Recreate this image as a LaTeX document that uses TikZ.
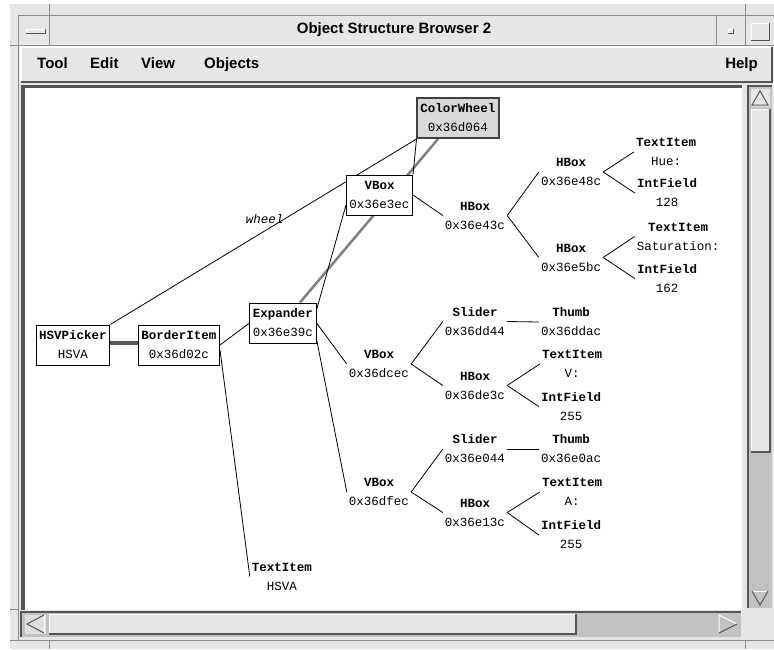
\documentclass[tikz,border=0pt]{standalone}
\usepackage{fontspec}
\usetikzlibrary{backgrounds}
\newfontfamily\monofont{Liberation Mono}
\newfontfamily\uifont{Liberation Sans}
\definecolor{chrome}{HTML}{E6E6E6}
\definecolor{trough}{HTML}{C2C2C2}
\definecolor{bevel}{HTML}{555555}
\definecolor{frameln}{HTML}{8C8C8C}
\definecolor{selfill}{HTML}{D9D9D9}

\begin{document}
\begin{tikzpicture}[x=1pt, y=-1pt,
    obj/.style={align=center, inner sep=2pt,
        font=\fontsize{12.5}{19}\monofont},
    objbox/.style={obj, draw=black, fill=white, line width=1pt,
        minimum height=40pt, inner xsep=3pt},
    selbox/.style={objbox, draw=black!75, line width=2pt, fill=selfill},
    link/.style={black, line width=0.8pt},
    reflink/.style={black!50, line width=2.5pt},
    strong/.style={black!65, line width=3.5pt},
    menu/.style={font=\fontsize{15}{15}\uifont\bfseries, inner sep=0pt},
    frameline/.style={frameln, line width=0.8pt}
]
    \useasboundingbox (0,0) rectangle (774,649);

    % window around the canvas
    \begin{scope}[on background layer]
        \fill[white] (0,0) rectangle (774,649);
        \fill[chrome] (10,4) rectangle (774,649);
        \draw[frameline] (18,15) -- (774,15);
        \draw[frameline] (18,45) -- (774,45);
        \draw[frameline] (18,15) -- (18,640);
        \draw[frameline] (49,4) -- (49,45);
        \draw[frameline] (716,15) -- (716,45);
        \draw[frameline] (745,4) -- (745,45);
        \draw[frameline] (10,45) -- (18,45);
        \draw[frameline] (10,609) -- (18,609);
        \draw[frameline] (10,640) -- (774,640);
        \draw[frameline] (49,640) -- (49,649);
        \draw[frameline] (745,640) -- (745,649);
        % title bar buttons
        \draw[white, line width=1pt] (26,33) -- (26,29) -- (45,29);
        \draw[bevel, line width=1pt] (26,33) -- (45,33) -- (45,29);
        \draw[white, line width=1pt] (728,33) -- (728,29) -- (733,29);
        \draw[bevel, line width=1pt] (728,33) -- (733,33) -- (733,29);
        \draw[white, line width=1pt] (751,40) -- (751,23) -- (769,23);
        \draw[bevel, line width=1pt] (751,40) -- (769,40) -- (769,23);
        % menu bar
        \fill[chrome] (21,47) rectangle (772,82);
        \draw[white, line width=1.5pt] (21,82) -- (21,47) -- (772,47);
        \draw[bevel, line width=1.5pt] (21,82) -- (772,82) -- (772,47);
        % canvas
        \fill[white] (21,85) rectangle (742,610);
        \fill[bevel] (21,85) rectangle (25,610);
        \fill[bevel] (21,85) rectangle (742,88);
        % vertical scroll bar
        \fill[trough] (748,86) rectangle (772,608);
        \draw[bevel, line width=2pt] (748,608) -- (748,86) -- (772,86);
        \fill[chrome] (751,89) rectangle (770,107);
        \draw[bevel, line width=1pt] (752,105) -- (760,91) -- (768,105) -- cycle;
        \fill[chrome] (751,109) rectangle (770,452);
        \draw[white, line width=1pt] (751,452) -- (751,109) -- (770,109);
        \draw[bevel, line width=1.5pt] (751,452) -- (770,452) -- (770,109);
        \draw[white, line width=1pt] (752,591) -- (768,591);
        \draw[bevel, line width=1pt] (768,591) -- (760,605) -- (752,591);
        % horizontal scroll bar
        \fill[trough] (21,612) rectangle (741,637);
        \draw[bevel, line width=2pt] (21,637) -- (21,612) -- (741,612);
        \fill[chrome!80!trough] (25,615) rectangle (46,634);
        \draw[bevel, line width=1pt] (44,615) -- (27,624) -- (44,633);
        \draw[white, line width=1pt] (44,615) -- (44,633);
        \fill[chrome] (49,614) rectangle (576,634);
        \draw[white, line width=1pt] (49,634) -- (49,614) -- (576,614);
        \draw[bevel, line width=1.5pt] (49,634) -- (576,634) -- (576,614);
        \draw[white, line width=1pt] (719,633) -- (719,615) -- (737,624);
        \draw[bevel, line width=1pt] (737,624) -- (719,633);
    \end{scope}

    \node[font=\fontsize{15}{15}\uifont\bfseries] (title) at (394,30)
        {Object Structure Browser 2};
    \node[menu, anchor=base west] (tool) at (37,68.5) {Tool};
    \node[menu, anchor=base west] (edit) at (90,68.5) {Edit};
    \node[menu, anchor=base west] (view) at (141,68.5) {View};
    \node[menu, anchor=base west] (objects) at (204,68.5) {Objects};
    \node[menu, anchor=base east] (help) at (758,68.5) {Help};

    % objects
    \node[objbox] (hsv) at (73,345) {\textbf{HSVPicker}\\HSVA};
    \node[objbox] (border) at (179,345) {\textbf{BorderItem}\\0x36d02c};
    \node[objbox] (expander) at (283,323) {\textbf{Expander}\\0x36e39c};
    \node[objbox] (vboxA) at (379.5,195) {\textbf{VBox}\\0x36e3ec};
    \node[selbox] (wheel) at (458,118) {\textbf{ColorWheel}\\0x36d064};
    \node[obj] (hboxA) at (475,215.5) {\textbf{HBox}\\0x36e43c};
    \node[obj] (hboxB) at (571,172) {\textbf{HBox}\\0x36e48c};
    \node[obj] (hboxC) at (571,257.5) {\textbf{HBox}\\0x36e5bc};
    \node[obj] (hueItem) at (666,152) {\textbf{TextItem}\\Hue:};
    \node[obj] (hueField) at (667,193) {\textbf{IntField}\\128};
    \node[obj] (satItem) at (678,236.5) {\textbf{TextItem}\\Saturation:};
    \node[obj] (satField) at (667,278.5) {\textbf{IntField}\\162};
    \node[obj] (vboxB) at (379,364) {\textbf{VBox}\\0x36dcec};
    \node[obj] (sliderV) at (475,321.5) {\textbf{Slider}\\0x36dd44};
    \node[obj] (thumbV) at (571,322) {\textbf{Thumb}\\0x36ddac};
    \node[obj] (hboxV) at (475,385.5) {\textbf{HBox}\\0x36de3c};
    \node[obj] (vItem) at (572,364) {\textbf{TextItem}\\V:};
    \node[obj] (vField) at (571,406.5) {\textbf{IntField}\\255};
    \node[obj] (vboxC) at (379,492) {\textbf{VBox}\\0x36dfec};
    \node[obj] (sliderA) at (475,449) {\textbf{Slider}\\0x36e044};
    \node[obj] (thumbA) at (571,449) {\textbf{Thumb}\\0x36e0ac};
    \node[obj] (hboxAl) at (475,512.5) {\textbf{HBox}\\0x36e13c};
    \node[obj] (aItem) at (572,492) {\textbf{TextItem}\\A:};
    \node[obj] (aField) at (571,535) {\textbf{IntField}\\255};
    \node[obj] (label) at (282,576.5) {\textbf{TextItem}\\HSVA};

    \begin{scope}[on background layer]
        \draw[strong] ([yshift=2pt]hsv.east) -- ([yshift=2pt]border.west);
        \draw[link] (hsv.north east) -- (wheel.south west)
            node[obj, pos=0.57, anchor=east, inner sep=1pt, font=\fontsize{12.5}{19}\monofont\itshape] {wheel};
        \draw[reflink] ([xshift=17pt]expander.north) -- ([xshift=-20pt]wheel.south);
        \draw[link] (vboxA.north east) -- (wheel.south west);
        \draw[link] (border.east) -- (expander.west);
        \draw[link] ([yshift=-5pt]border.east) -- (label.west);
        \draw[link] ([yshift=13pt]expander.east) -- ([yshift=-10pt]vboxA.west);
        \draw[link] (expander.east) -- (vboxB.west);
        \draw[link] ([yshift=-16pt]expander.east) -- (vboxC.west);
        \draw[link] (vboxA.east) -- (hboxA.west);
        \draw[link] (hboxA.east) -- (hboxB.west);
        \draw[link] (hboxA.east) -- (hboxC.west);
        \draw[link] (hboxB.east) -- (hueItem.west);
        \draw[link] (hboxB.east) -- (hueField.west);
        \draw[link] (hboxC.east) -- (satItem.west);
        \draw[link] (hboxC.east) -- (satField.west);
        \draw[link] (vboxB.east) -- (sliderV.west);
        \draw[link] (vboxB.east) -- (hboxV.west);
        \draw[link] (sliderV.east) -- (thumbV.west);
        \draw[link] (hboxV.east) -- (vItem.west);
        \draw[link] (hboxV.east) -- (vField.west);
        \draw[link] (vboxC.east) -- (sliderA.west);
        \draw[link] (vboxC.east) -- (hboxAl.west);
        \draw[link] (sliderA.east) -- (thumbA.west);
        \draw[link] (hboxAl.east) -- (aItem.west);
        \draw[link] (hboxAl.east) -- (aField.west);
    \end{scope}
\end{tikzpicture}
\end{document}
